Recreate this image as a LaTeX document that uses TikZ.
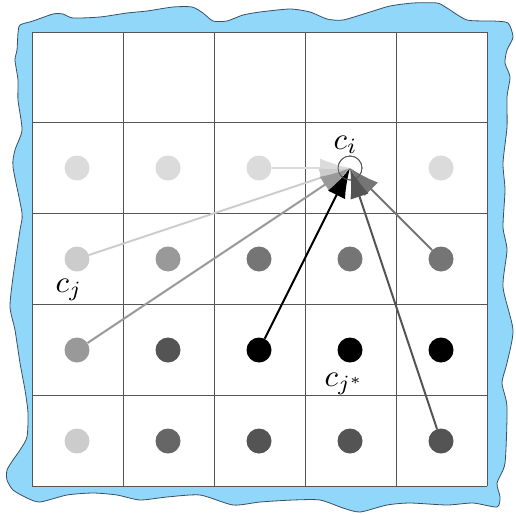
\documentclass[tikz,border=0pt]{standalone}
\usetikzlibrary{arrows.meta}
\definecolor{sea}{RGB}{145,215,250}
\definecolor{coast}{RGB}{55,80,100}
\definecolor{gridc}{RGB}{85,85,85}
\definecolor{gL}{gray}{0.86}
\definecolor{gC}{gray}{0.80}
\definecolor{gM}{gray}{0.60}
\definecolor{gD}{gray}{0.46}
\definecolor{gE}{gray}{0.40}
\definecolor{gF}{gray}{0.33}
\begin{document}
\begin{tikzpicture}[x=1pt,y=-1pt,
  dot/.style={circle,minimum size=25pt,inner sep=0pt,fill=#1},
  gline/.style={draw=gridc,line width=0.9pt},
  arr/.style={line width=2pt,draw=#1,-{Latex[length=30pt,width=19pt]}},
  lab/.style={inner sep=0pt,scale=3.1}]
\useasboundingbox (0,0) rectangle (516,514);
\filldraw[fill=sea,draw=coast,line width=0.8pt] plot[smooth cycle,tension=0.4] coordinates {
(20,25) (33,21) (53,14) (63,14) (73,18) (100,17) (127,13) (147,11) (173,7) (192,7) (203,13) (213,21) (227,21) (243,15) (260,12) (290,9) (310,12) (327,19) (343,20) (370,12) (390,6) (413,3) (437,3) (447,8) (467,20) (493,21) (508,23) (513,37) (507,50) (505,63) (510,77) (507,97) (507,127) (503,163) (505,190) (503,227) (507,250) (503,287) (513,330) (507,363) (502,383) (507,407) (505,463) (497,483) (500,497) (497,507) (473,503) (447,505) (410,503) (387,505) (360,512) (343,508) (320,500) (293,500) (260,502) (233,505) (200,495) (167,497) (140,500) (117,495) (93,493) (67,495) (40,502) (27,498) (13,490) (7,480) (7,470) (13,460) (20,450) (27,437) (28,413) (25,390) (20,363) (15,330) (10,307) (13,277) (20,230) (22,213) (13,167) (15,150) (22,130) (18,100) (18,80) (15,60) (17,50) (18,33)};
\fill[white] (32,32) rectangle (487,486);
\foreach \k in {0,...,5}{
  \path[gline] (32+91*\k,32) -- (32+91*\k,486);
  \path[gline] (32,32+90.8*\k) -- (487,32+90.8*\k);
}
% dots: row r (1..4 below the top empty row), column c
\node[dot=gL] (d11) at (77,168) {};
\node[dot=gL] (d12) at (168,168) {};
\node[dot=gL] (d13) at (259,168) {};
\node[dot=gL] (d15) at (441,168) {};
\node[dot=gC] (d21) at (77,259) {};
\node[dot=gM] (d22) at (168,259) {};
\node[dot=gD] (d23) at (259,259) {};
\node[dot=gD] (d24) at (350,259) {};
\node[dot=gD] (d25) at (441,259) {};
\node[dot=gM] (d31) at (77,350) {};
\node[dot=gF] (d32) at (168,350) {};
\node[dot=black] (d33) at (259,350) {};
\node[dot=black] (d34) at (350,350) {};
\node[dot=black] (d35) at (441,350) {};
\node[dot=gC] (d41) at (77,441) {};
\node[dot=gE] (d42) at (168,441) {};
\node[dot=gF] (d43) at (259,441) {};
\node[dot=gF] (d44) at (350,441) {};
\node[dot=gF] (d45) at (441,441) {};
\node[circle,minimum size=24pt,inner sep=0pt,fill=white,draw=gridc,line width=0.8pt] (ci) at (350,168) {};
% arrows
\draw[arr=gL] (d13) -- (ci.center);
\draw[arr=gC] (d21) -- (ci.center);
\draw[arr=gM] (d31) -- (ci.center);
\draw[arr=gD] (d25) -- (ci.center);
\draw[arr=gF] (d45) -- (ci.center);
\draw[arr=black] (d33) -- (ci.center);
\node[circle,minimum size=24pt,inner sep=0pt,draw=gridc,line width=0.8pt] (cio) at (ci.center) {};
% labels
\node[lab,anchor=base west] (li) at (333,149) {$c_i$};
\node[lab,anchor=base west] (lj) at (55,292) {$c_j$};
\node[lab,anchor=base west] (ljs) at (324,386) {$c_{j^*}$};
\end{tikzpicture}
\end{document}
